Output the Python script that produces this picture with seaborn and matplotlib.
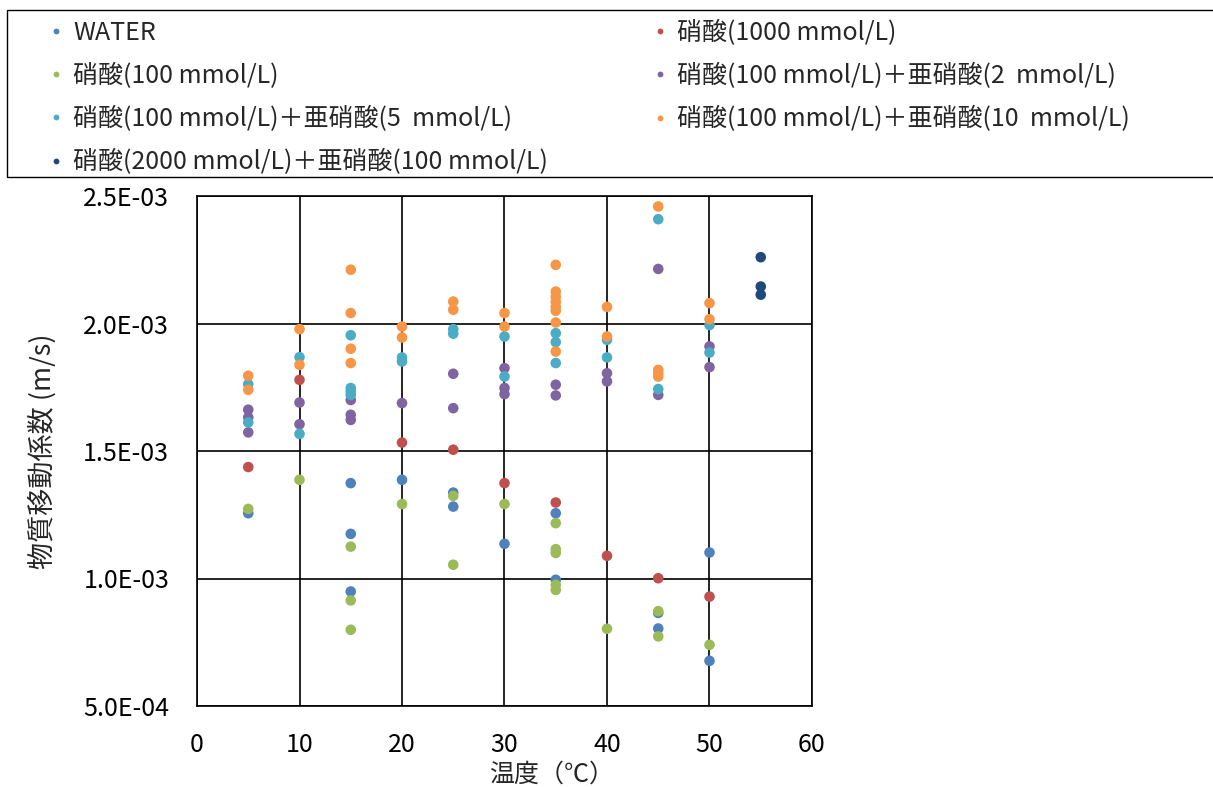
import numpy as np
import pandas as pd
import matplotlib
matplotlib.use("Agg")
import matplotlib.pyplot as plt
from matplotlib.ticker import FuncFormatter, MultipleLocator
from matplotlib.patches import Rectangle
import seaborn as sns

# ---- data (values in units of 1E-3 m/s) ----
series_names = [
    "WATER",
    "硝酸(1000 mmol/L)",
    "硝酸(100 mmol/L)",
    "硝酸(100 mmol/L)＋亜硝酸(2  mmol/L)",
    "硝酸(100 mmol/L)＋亜硝酸(5  mmol/L)",
    "硝酸(100 mmol/L)＋亜硝酸(10  mmol/L)",
    "硝酸(2000 mmol/L)＋亜硝酸(100 mmol/L)",
]
series_colors = ["#4F81BD", "#C0504D", "#9BBB59", "#8064A2", "#4BACC6", "#F79646", "#1F497D"]

water_x = [5, 15, 15, 15, 20, 25, 25, 30, 35, 35, 45, 45, 50, 50]
water_y = [1.256, 1.374, 1.175, 0.949, 1.387, 1.337, 1.282, 1.136, 1.256, 0.995, 0.865, 0.804, 1.102, 0.677]

hno3_1000_x = [5, 10, 20, 25, 30, 35, 40, 45, 50]
hno3_1000_y = [1.437, 1.779, 1.533, 1.505, 1.374, 1.298, 1.089, 1.001, 0.929]

hno3_100_x = [5, 10, 15, 15, 15, 20, 25, 25, 30, 35, 35, 35, 35, 35, 40, 45, 45, 50]
hno3_100_y = [1.273, 1.387, 1.125, 0.914, 0.799, 1.292, 1.324, 1.054, 1.292,
              1.217, 1.115, 1.100, 0.975, 0.955, 0.803, 0.872, 0.773, 0.740]

mix2_x = [5, 5, 5, 10, 10, 15, 15, 15, 20, 25, 25, 30, 30, 30, 35, 35, 40, 40, 45, 45, 50, 50]
mix2_y = [1.662, 1.632, 1.573, 1.690, 1.605, 1.700, 1.642, 1.622, 1.688, 1.803, 1.668,
          1.825, 1.747, 1.723, 1.760, 1.718, 1.805, 1.773, 2.214, 1.720, 1.910, 1.829]

mix5_x = [5, 5, 10, 10, 15, 15, 15, 15, 20, 20, 25, 25, 30, 30, 35, 35, 35, 40, 40, 45, 45, 50, 50]
mix5_y = [1.762, 1.612, 1.868, 1.567, 1.954, 1.747, 1.733, 1.720, 1.867, 1.851, 1.978, 1.960,
          1.949, 1.792, 1.962, 1.927, 1.845, 1.936, 1.867, 2.409, 1.743, 1.994, 1.886]

mix10_x = [5, 5, 10, 10, 15, 15, 15, 15, 20, 20, 25, 25, 30, 30,
           35, 35, 35, 35, 35, 35, 35, 35, 40, 40, 45, 45, 45, 45, 50, 50]
mix10_y = [1.795, 1.740, 1.978, 1.838, 2.211, 2.041, 1.901, 1.845, 1.988, 1.945, 2.086, 2.054,
           2.041, 1.988, 2.230, 2.125, 2.105, 2.085, 2.065, 2.050, 2.004, 1.890,
           2.065, 1.949, 2.459, 1.818, 1.805, 1.792, 2.080, 2.017]

mix2000_x = [55, 55, 55]
mix2000_y = [2.260, 2.145, 2.113]

xs = [water_x, hno3_1000_x, hno3_100_x, mix2_x, mix5_x, mix10_x, mix2000_x]
ys = [water_y, hno3_1000_y, hno3_100_y, mix2_y, mix5_y, mix10_y, mix2000_y]

frames = []
for name, x, y in zip(series_names, xs, ys):
    frames.append(pd.DataFrame({"temp": x, "k": np.array(y) * 1e-3, "series": name}))
df = pd.concat(frames, ignore_index=True)

# ---- style ----
sns.set_style("white")
plt.rcParams["font.family"] = ["Noto Sans CJK JP", "DejaVu Sans"]

W, H = 1213, 787
fig = plt.figure(figsize=(W / 100, H / 100), dpi=100)
ax = fig.add_axes([197 / W, 1 - 706 / H, (812 - 197) / W, (706 - 196) / H])

sns.scatterplot(data=df, x="temp", y="k", hue="series", hue_order=series_names,
                palette=series_colors, s=58, linewidth=0, ax=ax, legend=True, zorder=3)

ax.set_xlim(0, 60)
ax.set_ylim(0.5e-3, 2.5e-3)
ax.xaxis.set_major_locator(MultipleLocator(10))
ax.yaxis.set_major_locator(MultipleLocator(0.5e-3))
ax.yaxis.set_major_formatter(FuncFormatter(lambda v, p: f"{v:.1E}"))
ax.grid(True, color="black", linewidth=1.2, zorder=0)
ax.set_axisbelow(True)
for sp in ax.spines.values():
    sp.set_color("black")
    sp.set_linewidth(1.2)
ax.tick_params(axis="both", length=0, labelsize=18, colors="black")
ax.tick_params(axis="x", pad=19)
ax.tick_params(axis="y", pad=20)

ax.set_xlabel("温度（℃）", fontsize=18, labelpad=2)
ax.xaxis.label.set_x(0.576)
ax.set_ylabel("物質移動係数 (m/s)", fontsize=19.5, labelpad=19)

handles, labels = ax.get_legend_handles_labels()
ax.legend_.remove()
hmap = dict(zip(labels, handles))

# legend frame spanning the top of the figure
fig.patches.append(Rectangle((7 / W, 1 - 177 / H), (W + 10 - 7) / W, (177 - 10) / H,
                             transform=fig.transFigure, fill=False,
                             edgecolor="black", linewidth=1.0))

legend_kw = dict(loc="upper left", fontsize=18, frameon=False, markerscale=0.55,
                 handlelength=0.8, handletextpad=0.28, labelspacing=0.68,
                 borderpad=0, borderaxespad=0)
col1 = [series_names[i] for i in [0, 2, 4, 6]]
col2 = [series_names[i] for i in [1, 3, 5]]
leg1 = fig.legend([hmap[n] for n in col1], col1,
                  bbox_to_anchor=(46 / W, 1 - 20 / H), **legend_kw)
leg2 = fig.legend([hmap[n] for n in col2], col2,
                  bbox_to_anchor=(650 / W, 1 - 20 / H), **legend_kw)

fig.savefig("out.png", dpi=100)
